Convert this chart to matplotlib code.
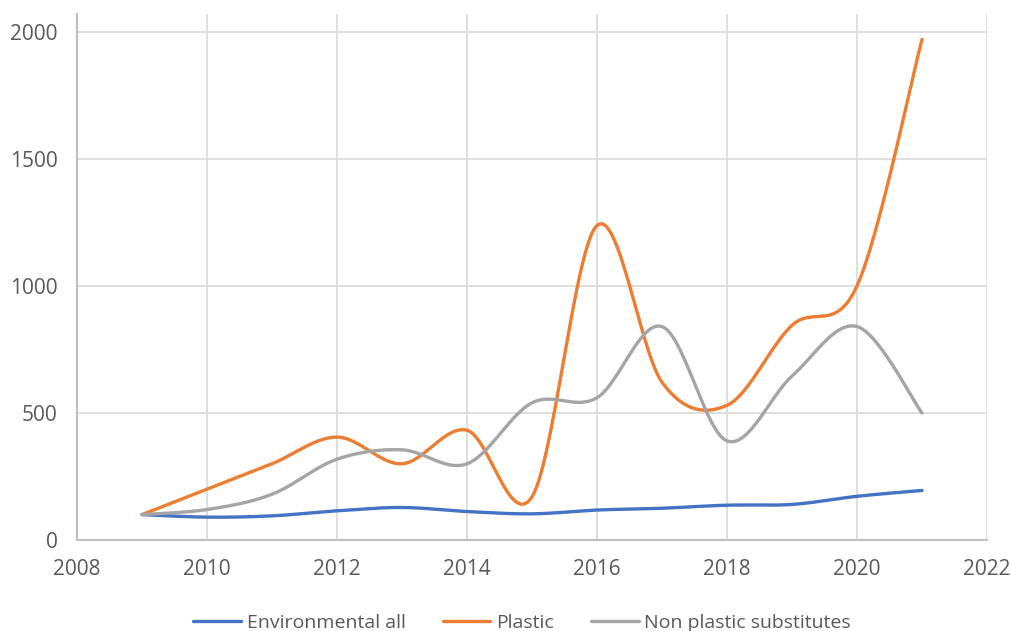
import numpy as np
import matplotlib.pyplot as plt

years = [2009, 2010, 2011, 2012, 2013, 2014, 2015, 2016, 2017, 2018, 2019, 2020, 2021]
environmental_all = [100, 90, 95, 115, 128, 112, 103, 118, 125, 137, 140, 172, 195]
plastic = [100, 200, 300, 405, 300, 432, 170, 1238, 621, 530, 845, 1000, 1970]
non_plastic = [100, 120, 180, 318, 355, 300, 540, 560, 840, 390, 645, 840, 500]

series = [
    ("Environmental all", environmental_all, "#4472C4"),
    ("Plastic", plastic, "#ED7D31"),
    ("Non plastic substitutes", non_plastic, "#A5A5A5"),
]


def smooth(x, y, n=30):
    # Catmull-Rom style bezier through each point (spreadsheet "smoothed line")
    x = np.asarray(x, float)
    y = np.asarray(y, float)
    px = np.concatenate([[x[0]], x, [x[-1]]])
    py = np.concatenate([[y[0]], y, [y[-1]]])
    t = np.linspace(0, 1, n)[:, None]
    xs, ys = [], []
    for i in range(1, len(px) - 2):
        p0 = np.array([px[i], py[i]])
        p3 = np.array([px[i + 1], py[i + 1]])
        c1 = p0 + (np.array([px[i + 1], py[i + 1]]) - np.array([px[i - 1], py[i - 1]])) / 6
        c2 = p3 - (np.array([px[i + 2], py[i + 2]]) - np.array([px[i], py[i]])) / 6
        pts = ((1 - t) ** 3) * p0 + 3 * ((1 - t) ** 2) * t * c1 + 3 * (1 - t) * t ** 2 * c2 + t ** 3 * p3
        xs.append(pts[:, 0])
        ys.append(pts[:, 1])
    return np.concatenate(xs), np.concatenate(ys)


plt.rcParams["font.family"] = ["Open Sans", "DejaVu Sans"]

fig = plt.figure(figsize=(10.12, 6.31), dpi=100)
ax = fig.add_axes([0.0761, 0.1442, 0.8992, 0.8336])

for label, vals, color in series:
    sx, sy = smooth(years, vals)
    ax.plot(sx, sy, color=color, linewidth=2.4, label=label, solid_capstyle="round")

ax.set_xlim(2008, 2022)
ax.set_ylim(0, 2070)
ax.set_xticks(range(2008, 2023, 2))
ax.set_yticks(range(0, 2001, 500))
ax.grid(True, color="#D9D9D9", linewidth=1.2)
ax.set_axisbelow(True)

for side in ["top", "right"]:
    ax.spines[side].set_visible(False)
for side in ["left", "bottom"]:
    ax.spines[side].set_color("#BFBFBF")
    ax.spines[side].set_linewidth(1.5)

ax.tick_params(length=0, labelsize=15, labelcolor="#595959")
ax.tick_params(axis="x", pad=14)
ax.tick_params(axis="y", pad=14)

ax.legend(loc="center", bbox_to_anchor=(0.516, 8 / 631), bbox_transform=fig.transFigure,
          ncol=3, frameon=False, fontsize=14, labelcolor="#595959",
          handlelength=2.45, columnspacing=1.9, handletextpad=0.3)

fig.savefig("out.png", dpi=100)
